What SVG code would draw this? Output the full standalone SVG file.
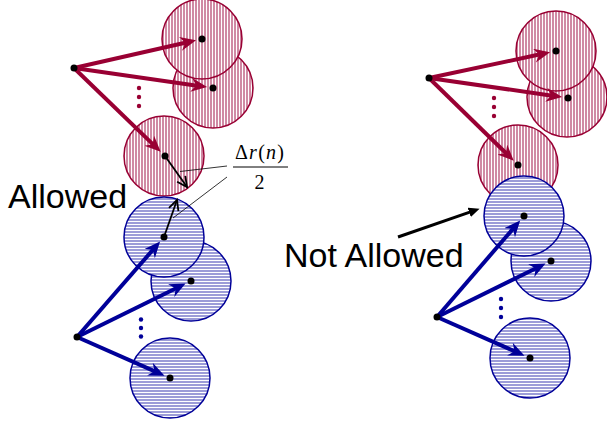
<svg xmlns="http://www.w3.org/2000/svg" width="607" height="424" viewBox="0 0 607 424">
<style>
.rc{fill:url(#pr);stroke:#990033;stroke-width:1.5}
.bc{fill:url(#pb);stroke:#000099;stroke-width:1.5}
.ra{stroke:#990033;stroke-width:4;fill:none}
.ba{stroke:#000099;stroke-width:4;fill:none}
.ka{stroke:#000;stroke-width:1.8;fill:none}
.dot{fill:#000}
.lbl{font-family:"Liberation Sans",Arial,sans-serif;font-size:34px;fill:#000}
.math{font-family:"Liberation Serif","Times New Roman",serif;font-size:20px;fill:#000}
</style>
<defs>
<pattern id="pr" width="3" height="3" patternUnits="userSpaceOnUse">
<rect width="3" height="3" fill="#fff"/><rect width="2" height="3" fill="#d08aa4"/>
</pattern>
<pattern id="pb" width="3" height="3" patternUnits="userSpaceOnUse">
<rect width="3" height="3" fill="#fff"/><rect width="3" height="2" fill="#9c9cd8"/>
</pattern>
<marker id="hr" markerUnits="userSpaceOnUse" markerWidth="20" markerHeight="16" refX="6" refY="7" orient="auto" viewBox="0 0 20 16">
<path d="M0,0 L16,7 L0,14 L5,7 Z" fill="#990033"/>
</marker>
<marker id="hb" markerUnits="userSpaceOnUse" markerWidth="20" markerHeight="16" refX="6" refY="7" orient="auto" viewBox="0 0 20 16">
<path d="M0,0 L16,7 L0,14 L5,7 Z" fill="#000099"/>
</marker>
<marker id="hk" markerUnits="userSpaceOnUse" markerWidth="14" markerHeight="14" refX="11" refY="6" orient="auto" viewBox="0 0 14 14">
<path d="M1,1 L11,6 L1,11" fill="none" stroke="#000" stroke-width="1.8"/>
</marker>
<marker id="hf" markerUnits="userSpaceOnUse" markerWidth="14" markerHeight="12" refX="3" refY="5" orient="auto" viewBox="0 0 14 12">
<path d="M0,0 L11,5 L0,10 Z" fill="#000"/>
</marker>
</defs>

<g id="left-red-2"><circle class="rc" cx="213" cy="88" r="40"/></g>
<g id="left-red-1"><circle class="rc" cx="202" cy="39" r="40"/></g>
<g id="left-red-3"><circle class="rc" cx="164" cy="156" r="40"/></g>
<g id="left-blue-2"><circle class="bc" cx="191" cy="281" r="40"/></g>
<g id="left-blue-1"><circle class="bc" cx="164" cy="237" r="40"/></g>
<g id="left-blue-3"><circle class="bc" cx="170" cy="378" r="40"/></g>

<g id="right-red-2"><circle class="rc" cx="567" cy="97" r="40"/></g>
<g id="right-red-1"><circle class="rc" cx="556" cy="51" r="40"/></g>
<g id="right-red-3"><circle class="rc" cx="518" cy="165" r="40"/></g>
<g id="right-blue-2"><circle class="bc" cx="551" cy="261" r="40"/></g>
<g id="right-blue-1"><circle class="bc" cx="524" cy="216" r="40"/></g>
<g id="right-blue-3"><circle class="bc" cx="530" cy="358" r="40"/></g>

<g id="connectors">
<line class="ra" x1="74" y1="68" x2="186.3" y2="42.5" marker-end="url(#hr)"/>
<line class="ra" x1="74" y1="68" x2="197.2" y2="85.7" marker-end="url(#hr)"/>
<line class="ra" x1="74" y1="68" x2="153.5" y2="144.9" marker-end="url(#hr)"/>
<line class="ba" x1="77" y1="337" x2="153.5" y2="249.1" marker-end="url(#hb)"/>
<line class="ba" x1="77" y1="337" x2="176.6" y2="288" marker-end="url(#hb)"/>
<line class="ba" x1="77" y1="337" x2="155.4" y2="371.6" marker-end="url(#hb)"/>
<line class="ra" x1="429" y1="78" x2="540.3" y2="54.3" marker-end="url(#hr)"/>
<line class="ra" x1="429" y1="78" x2="552.2" y2="95.7" marker-end="url(#hr)"/>
<line class="ra" x1="429" y1="78" x2="506.6" y2="153.8" marker-end="url(#hr)"/>
<line class="ba" x1="437" y1="317" x2="513.6" y2="228.1" marker-end="url(#hb)"/>
<line class="ba" x1="437" y1="317" x2="536.6" y2="268" marker-end="url(#hb)"/>
<line class="ba" x1="437" y1="317" x2="515.4" y2="351.6" marker-end="url(#hb)"/>
<line class="ka" x1="165" y1="156" x2="187" y2="187" marker-end="url(#hk)"/>
<line class="ka" x1="164" y1="237" x2="177" y2="200" marker-end="url(#hk)"/>
<line x1="180" y1="171.5" x2="227" y2="166" stroke="#000" stroke-width="0.8"/>
<line x1="173" y1="218" x2="227" y2="177" stroke="#000" stroke-width="0.8"/>
<line x1="398" y1="237" x2="472" y2="211.4" stroke="#000" stroke-width="3" marker-end="url(#hf)"/>
</g>

<g id="points">
<circle class="dot" cx="74" cy="68" r="3.5"/>
<circle class="dot" cx="202" cy="39" r="3.5"/>
<circle class="dot" cx="213" cy="88" r="3.5"/>
<circle class="dot" cx="165" cy="156" r="3.5"/>
<circle class="dot" cx="77" cy="337" r="3.5"/>
<circle class="dot" cx="164" cy="237" r="3.5"/>
<circle class="dot" cx="191" cy="281" r="3.5"/>
<circle class="dot" cx="170" cy="378" r="3.5"/>
<circle class="dot" cx="429" cy="78" r="3.5"/>
<circle class="dot" cx="556" cy="51" r="3.5"/>
<circle class="dot" cx="568" cy="98" r="3.5"/>
<circle class="dot" cx="518" cy="165" r="3.5"/>
<circle class="dot" cx="437" cy="317" r="3.5"/>
<circle class="dot" cx="524" cy="216" r="3.5"/>
<circle class="dot" cx="551" cy="261" r="3.5"/>
<circle class="dot" cx="530" cy="358" r="3.5"/>
</g>

<g id="ellipses">
<g fill="#990033">
<circle cx="139" cy="88" r="2.2"/><circle cx="139" cy="97" r="2.2"/><circle cx="139" cy="106" r="2.2"/>
<circle cx="494" cy="98" r="2.2"/><circle cx="494" cy="107" r="2.2"/><circle cx="494" cy="116" r="2.2"/>
</g>
<g fill="#000099">
<circle cx="141" cy="319.5" r="2.2"/><circle cx="141" cy="328" r="2.2"/><circle cx="141" cy="336.5" r="2.2"/>
<circle cx="501" cy="299" r="2.2"/><circle cx="501" cy="308" r="2.2"/><circle cx="501" cy="317" r="2.2"/>
</g>
</g>

<g id="labels">
<text class="lbl" x="8" y="208">Allowed</text>
<text class="lbl" x="284" y="267">Not Allowed</text>
<text class="math" x="235" y="159" textLength="49" lengthAdjust="spacing">Δ<tspan font-style="italic">r</tspan>(<tspan font-style="italic">n</tspan>)</text>
<line x1="233" y1="167" x2="288" y2="167" stroke="#000" stroke-width="1"/>
<text class="math" x="259.5" y="189" text-anchor="middle">2</text>
</g>
</svg>
